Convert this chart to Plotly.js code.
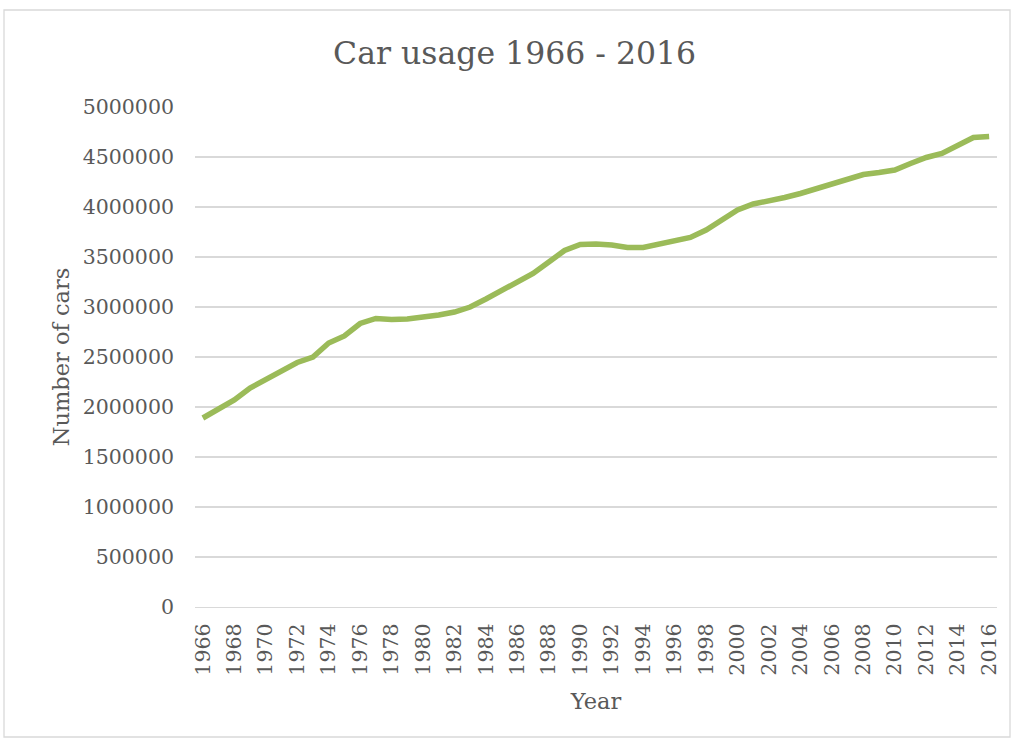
<!DOCTYPE html>
<html>
<head>
<meta charset="utf-8">
<script src="https://cdn.plot.ly/plotly-3.0.1.min.js"></script>
<style>
html,body{margin:0;padding:0;background:#fff;}
#chart{width:1013px;height:740px;}
</style>
</head>
<body>
<div id="chart"></div>
<script>
const years = [1966,1967,1968,1969,1970,1971,1972,1973,1974,1975,1976,1977,1978,1979,1980,1981,1982,1983,1984,1985,1986,1987,1988,1989,1990,1991,1992,1993,1994,1995,1996,1997,1998,1999,2000,2001,2002,2003,2004,2005,2006,2007,2008,2009,2010,2011,2012,2013,2014,2015,2016];
const cars = [1890000,1975000,2070000,2190000,2275000,2345000,2445000,2500000,2640000,2710000,2835000,2885000,2875000,2880000,2895000,2920000,2950000,3000000,3080000,3160000,3240000,3335000,3450000,3565000,3625000,3630000,3620000,3595000,3595000,3630000,3660000,3695000,3770000,3870000,3970000,4030000,4060000,4095000,4135000,4180000,4230000,4280000,4325000,4345000,4370000,4435000,4495000,4535000,4615000,4695000,4705000];
const xTickLabels = years.filter(y => y % 2 === 0).map(String);
const yTicks = [0,500000,1000000,1500000,2000000,2500000,3000000,3500000,4000000,4500000,5000000];

const fontFam = 'DejaVu Serif, serif';
const txt = '#595959';

const trace = {
  x: years.map(String),
  y: cars,
  type: 'scatter',
  mode: 'lines',
  line: {color: '#9bbb59', width: 5.5, shape: 'linear'},
  hoverinfo: 'x+y'
};

const layout = {
  width: 1013, height: 740,
  margin: {l: 195, r: 16, t: 107, b: 133},
  paper_bgcolor: '#ffffff', plot_bgcolor: '#ffffff',
  showlegend: false,
  title: {text: 'Car usage 1966 - 2016', font: {family: fontFam, size: 31.5, color: txt}, x: 0.508, xanchor: 'center', y: 0.928, yanchor: 'middle'},
  xaxis: {
    type: 'category',
    tickmode: 'array', tickvals: xTickLabels, ticktext: xTickLabels,
    tickangle: -90,
    tickfont: {family: fontFam, size: 20.5, color: txt},
    showgrid: false, zeroline: false,
    showline: true, linecolor: '#d9d9d9', linewidth: 1.3,
    ticks: '', ticklabelstandoff: 7,
    range: [-0.5, years.length - 0.5],
    title: {text: 'Year', font: {family: fontFam, size: 22.5, color: txt}, standoff: 18}
  },
  yaxis: {
    range: [0, 5000000],
    tickmode: 'array', tickvals: yTicks, ticktext: yTicks.map(String),
    tickfont: {family: fontFam, size: 20.5, color: txt},
    showgrid: true, gridcolor: '#d9d9d9', gridwidth: 1.3,
    zeroline: false, showline: false, ticks: '', ticklabelstandoff: 20,
    title: {text: 'Number of cars', font: {family: fontFam, size: 22.5, color: txt}, standoff: 6}
  },
  shapes: [{
    type: 'rect', xref: 'paper', yref: 'paper',
    x0: (4 - 195) / 802, x1: (1010 - 195) / 802,
    y0: (607 - 737) / 500, y1: (607 - 10) / 500,
    line: {color: '#d9d9d9', width: 1.3}, fillcolor: 'rgba(0,0,0,0)', layer: 'below'
  }]
};

Plotly.newPlot('chart', [trace], layout, {displayModeBar: false, staticPlot: true});
</script>
</body>
</html>
